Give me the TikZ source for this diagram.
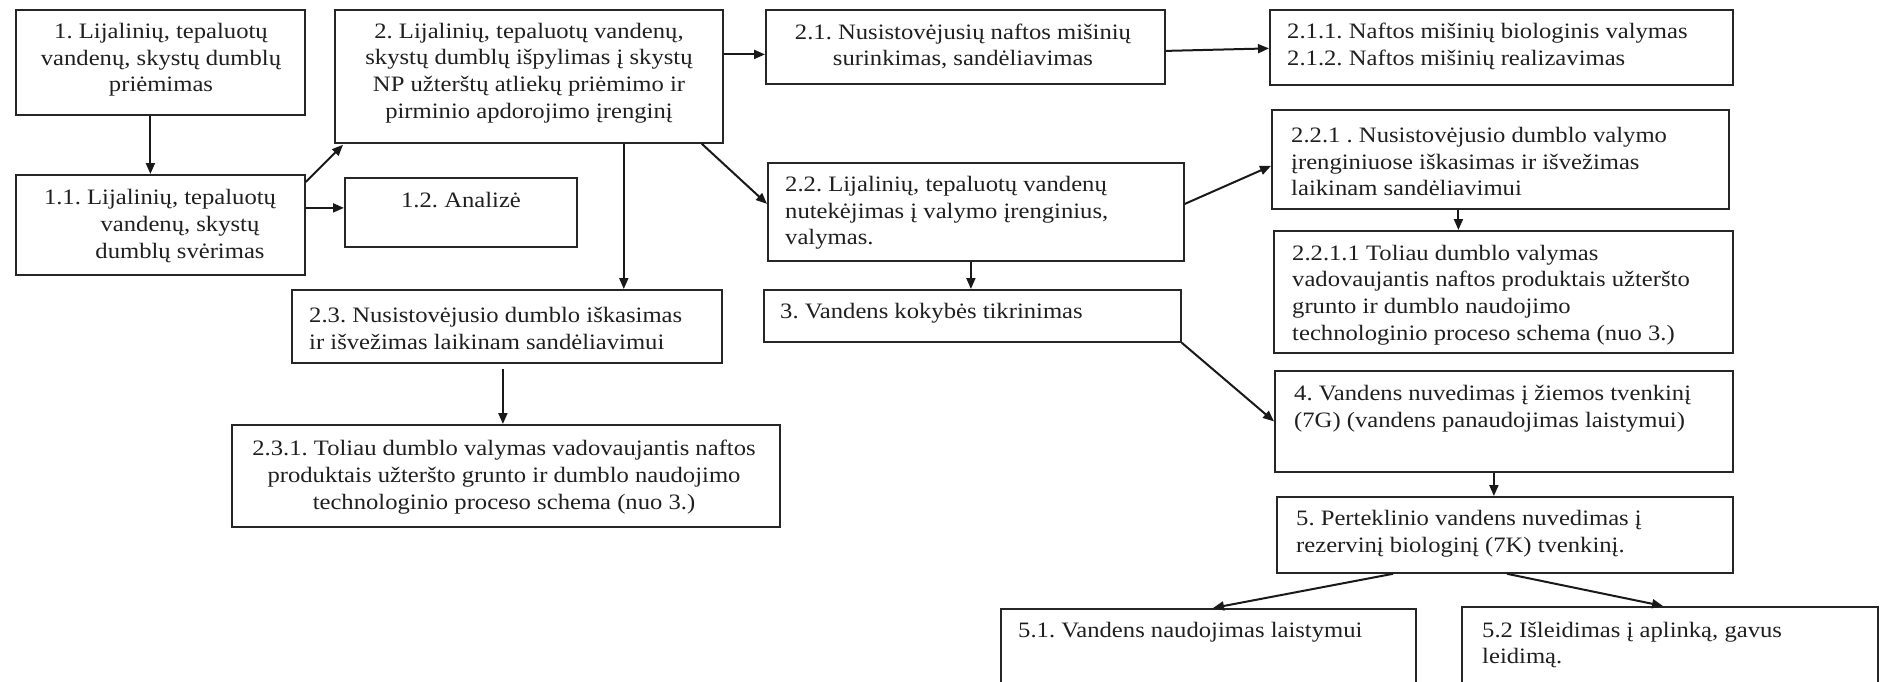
\documentclass[tikz,border=0pt]{standalone}
\usepackage{fontspec}
\setmainfont{Liberation Serif}[FakeStretch=1.12]
\usetikzlibrary{arrows.meta,calc}
\begin{document}
\frenchspacing
\begin{tikzpicture}[x=1pt,y=-1pt,
 box/.style={draw=black!85, line width=1.8pt, rectangle, inner sep=0pt, anchor=north west},
 txt/.style={inner sep=0pt, font=\fontsize{22}{26.7}\selectfont, text=black!88},
 ltxt/.style={txt, align=left, anchor=west},
 arr/.style={draw=black!90, line width=2pt, -{Triangle[length=11pt,width=9pt]}}]
\useasboundingbox (0,0) rectangle (1881,682);
\clip (0,0) rectangle (1881,682);
% boxes
\node[box, minimum width=289pt, minimum height=105pt] (b1) at (15,9) {};
\node[box, minimum width=289pt, minimum height=100pt] (b11) at (15,174) {};
\node[box, minimum width=232pt, minimum height=69pt] (b12) at (344,177) {};
\node[box, minimum width=388pt, minimum height=133pt] (b2) at (334,9) {};
\node[box, minimum width=399pt, minimum height=74pt] (b21) at (765,9) {};
\node[box, minimum width=463pt, minimum height=75pt] (b211) at (1269,9) {};
\node[box, minimum width=457pt, minimum height=99pt] (b221) at (1271,109) {};
\node[box, minimum width=416pt, minimum height=98pt] (b22) at (767,162) {};
\node[box, minimum width=459pt, minimum height=122pt] (b2211) at (1273,230) {};
\node[box, minimum width=430pt, minimum height=73pt] (b23) at (291,289) {};
\node[box, minimum width=548pt, minimum height=102pt] (b231) at (231,424) {};
\node[box, minimum width=417pt, minimum height=52pt] (b3) at (763,289) {};
\node[box, minimum width=458pt, minimum height=101pt] (b4) at (1274,370) {};
\node[box, minimum width=456pt, minimum height=76pt] (b5) at (1276,496) {};
\node[box, minimum width=415pt, minimum height=120pt] (b51) at (1000,608) {};
\node[box, minimum width=416pt, minimum height=120pt] (b52) at (1461,606) {};
% texts
\node[txt, align=center] (t1) at (161,60) {1. Lijalinių, tepaluotų\\vandenų, skystų dumblų\\priėmimas};
\node[txt, align=center] (t11) at (160,226) {1.1. Lijalinių, tepaluotų\\\hspace*{40pt}vandenų, skystų\\\hspace*{40pt}dumblų svėrimas};
\node[txt] (t12) at (461,200) {1.2. Analizė};
\node[txt, align=center] (t2) at (529,73) {2. Lijalinių, tepaluotų vandenų,\\skystų dumblų išpylimas į skystų\\NP užterštų atliekų priėmimo ir\\pirminio apdorojimo įrenginį};
\node[txt, align=center] (t21) at (963,46.5) {2.1. Nusistovėjusių naftos mišinių\\surinkimas, sandėliavimas};
\node[ltxt] (t211) at (1287,46.5) {2.1.1. Naftos mišinių biologinis valymas\\2.1.2. Naftos mišinių realizavimas};
\node[ltxt] (t221) at (1291,161.5) {2.2.1 . Nusistovėjusio dumblo valymo\\įrenginiuose iškasimas ir išvežimas\\laikinam sandėliavimui};
\node[ltxt] (t22) at (785,213) {2.2. Lijalinių, tepaluotų vandenų\\nutekėjimas į valymo įrenginius,\\valymas.};
\node[ltxt] (t2211) at (1292,295) {2.2.1.1 Toliau dumblo valymas\\vadovaujantis naftos produktais užteršto\\grunto ir dumblo naudojimo\\technologinio proceso schema (nuo 3.)};
\node[ltxt] (t23) at (309,328.5) {2.3. Nusistovėjusio dumblo iškasimas\\ir išvežimas laikinam sandėliavimui};
\node[txt, align=center] (t231) at (504,477) {2.3.1. Toliau dumblo valymas vadovaujantis naftos\\produktais užteršto grunto ir dumblo naudojimo\\technologinio proceso schema (nuo 3.)};
\node[ltxt] (t3) at (780,313) {3. Vandens kokybės tikrinimas};
\node[ltxt] (t4) at (1294,408.5) {4. Vandens nuvedimas į žiemos tvenkinį\\(7G) (vandens panaudojimas laistymui)};
\node[ltxt] (t5) at (1296,533.5) {5. Perteklinio vandens nuvedimas į\\rezervinį biologinį (7K) tvenkinį.};
\node[ltxt] (t51) at (1018,632) {5.1. Vandens naudojimas laistymui};
\node[ltxt] (t52) at (1482,645) {5.2 Išleidimas į aplinką, gavus\\leidimą.};
% arrows
\draw[arr] ([xshift=-10pt]b1.south) -- ([xshift=-10pt]b11.north);
\draw[arr] ([yshift=17pt]b11.east) -- ([yshift=17pt]b11.east -| b12.west);
\draw[arr] ($(b11.north east)+(0,8)$) -- ($(b2.south west)+(9,1)$);
\draw[arr] ([yshift=22pt]b2.east) -- ([yshift=22pt]b2.east -| b21.west);
\draw[arr] ([yshift=-4pt]b21.east) -- ([yshift=-1pt]b211.west);
\draw[arr] ([xshift=-22pt]b2.south east) -- ([yshift=8pt]b22.west);
\draw[arr] ([xshift=-100pt]b2.south east) -- ([xshift=-100pt]b2.south east |- b23.north);
\draw[arr] ([yshift=8pt]b22.east) -- ([yshift=-6.5pt]b221.west);
\draw[arr] ([xshift=-5pt]b22.south) -- ([xshift=-5pt]b22.south |- b3.north);
\draw[arr] ([xshift=-42pt]b221.south) -- ([xshift=-42pt]b221.south |- b2211.north);
\draw[arr] ([xshift=-4pt,yshift=-5pt]b23.south) -- ([xshift=-4pt]b23.south |- b231.north);
\draw[arr] (b3.south east) -- (b4.west);
\draw[arr] ([xshift=-10pt]b4.south) -- ([xshift=-10pt]b4.south |- b5.north);
\draw[arr] ($(b5.south west)+(117,0)$) -- ($(b51.north west)+(213,0)$);
\draw[arr] ($(b5.south west)+(231,0)$) -- ($(b52.north west)+(202,0)$);
\end{tikzpicture}
\end{document}
